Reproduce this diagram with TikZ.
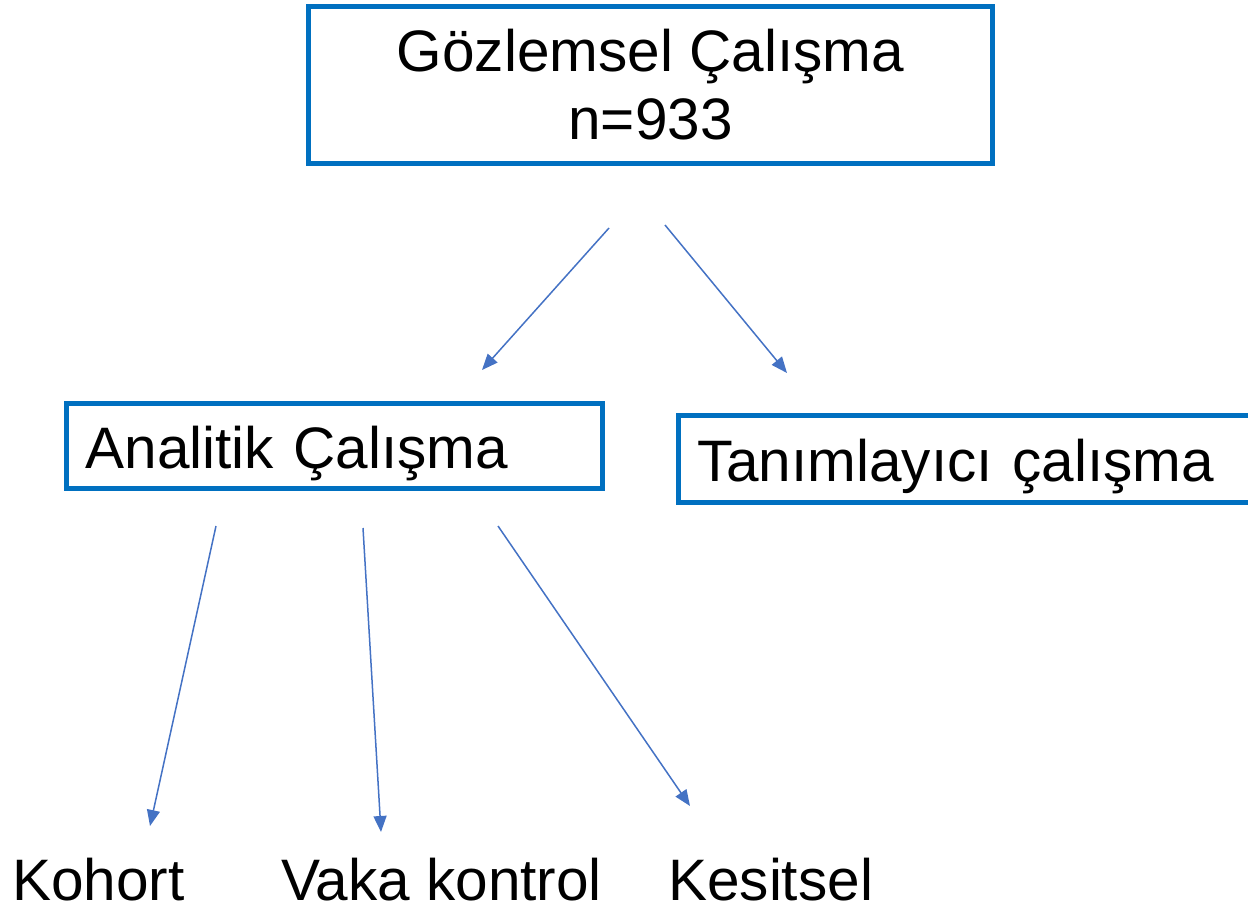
\documentclass[tikz,border=0pt]{standalone}
\usepackage{fontspec}
\setmainfont{Liberation Sans}
\usetikzlibrary{arrows.meta}
\definecolor{boxblue}{HTML}{0070C0}
\definecolor{arrowblue}{HTML}{4472C4}

\begin{document}
\begin{tikzpicture}[x=1pt, y=-1pt]
  \useasboundingbox (0,0) rectangle (1248,910);
  \clip (0,0) rectangle (1248,910);
  \tikzstyle{big}=[font=\fontsize{58.5}{68}\selectfont]
  \tikzstyle{box}=[big, draw=boxblue, line width=5pt, rectangle, inner sep=0pt]
  \tikzstyle{arr}=[draw=arrowblue, line width=1.5pt, -{Triangle[length=16pt, width=13pt]}]

  \node[box, minimum width=684, minimum height=157, align=center] (obs) at (650.5, 85) {Gözlemsel Çalışma\\n=933};
  \node[box, minimum height=85, text width=498, text height=56pt, text depth=12pt, inner xsep=19pt, align=left] (anl) at (334.5, 446) {Analitik Çalışma};
  \node[box, minimum height=87, text width=546, text height=56pt, text depth=12pt, inner xsep=19pt, align=left] (tan) at (970, 459) {Tanımlayıcı çalışma};

  \node[big, anchor=base west, inner sep=0pt] (koh) at (12,  900) {Kohort};
  \node[big, anchor=base west, inner sep=0pt] (vak) at (281, 900) {Vaka kontrol};
  \node[big, anchor=base west, inner sep=0pt] (kes) at (668, 900) {Kesitsel};

  \coordinate (a1) at (609, 228);  \coordinate (b1) at (482, 370);
  \coordinate (a2) at (665, 225);  \coordinate (b2) at (787, 373);
  \coordinate (a3) at (216, 526);  \coordinate (b3) at (150, 826);
  \coordinate (a4) at (363, 528);  \coordinate (b4) at (381, 832);
  \coordinate (a5) at (498, 526);  \coordinate (b5) at (690, 806);

  \draw[arr] (a1) -- (b1);
  \draw[arr] (a2) -- (b2);
  \draw[arr] (a3) -- (b3);
  \draw[arr] (a4) -- (b4);
  \draw[arr] (a5) -- (b5);
\end{tikzpicture}
\end{document}
